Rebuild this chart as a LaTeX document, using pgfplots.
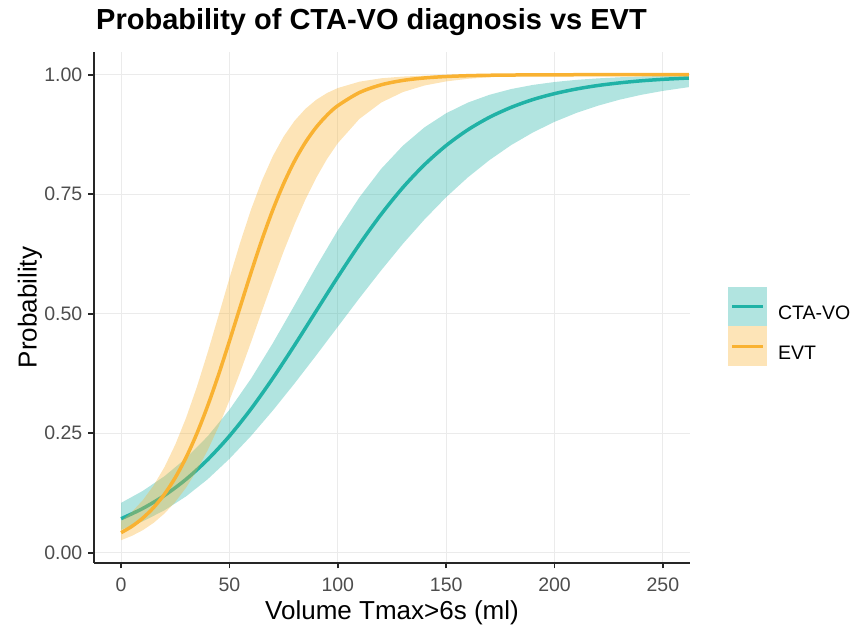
\documentclass[border=0pt]{standalone}
\usepackage{pgfplots}
\pgfplotsset{compat=1.18}
\usepackage{fontspec}
\setmainfont{Liberation Sans}
\definecolor{ctaline}{RGB}{32,178,166}
\definecolor{evtline}{RGB}{249,178,50}
\definecolor{gridc}{RGB}{235,235,235}
\definecolor{tickc}{RGB}{77,77,77}
\begin{document}
\begin{tikzpicture}
\path[use as bounding box] (0,0) rectangle (854pt,628pt);
\begin{axis}[
  at={(94pt,65pt)}, anchor=south west,
  scale only axis, width=596pt, height=511pt,
  xmin=-12.5, xmax=262.5, ymin=-0.0215, ymax=1.0475,
  axis x line=bottom, axis y line=left,
  axis line style={-, black!85, line width=1.8pt},
  xtick={0,50,100,150,200,250},
  xticklabels={0,50,100,150,200,250},
  ytick={0,0.25,0.5,0.75,1},
  yticklabels={0.00,0.25,0.50,0.75,1.00},
  tick align=outside,
  major tick length=5.5pt,
  tick style={black!85, line width=1.8pt},
  /pgf/number format/assume math mode=true,
  xticklabel style={font=\fontsize{19.5}{23}\selectfont, color=tickc, inner sep=0pt, yshift=-9pt},
  yticklabel style={font=\fontsize{19.5}{23}\selectfont, color=tickc, inner sep=0pt, xshift=-6pt},
  grid=major,
  grid style={gridc, line width=1pt},
  title={Probability of CTA-VO diagnosis vs EVT},
  title style={at={(axis description cs:0,1)}, anchor=base west, inner sep=0pt, xshift=2pt, yshift=16pt,
    font=\fontsize{29}{34}\selectfont\bfseries},
  xlabel={Volume Tmax>6s (ml)},
  xlabel style={at={(axis description cs:0.5,0)}, anchor=center, yshift=-50pt, inner sep=0pt,
    font=\fontsize{26}{30}\selectfont},
  ylabel={Probability},
  ylabel style={at={(axis description cs:0,0.5)}, anchor=center, yshift=64pt, inner sep=0pt,
    font=\fontsize{26}{30}\selectfont},
  legend style={at={(axis description cs:1.0638,0.463)}, anchor=west, draw=none, fill=none,
    inner sep=0pt, outer sep=0pt, row sep=0pt, column sep=11pt,
    nodes={inner sep=0pt}, font=\fontsize{19.5}{23}\selectfont},
  legend cell align=left,
]
% CTA-VO ribbon (upper forward, lower backward)
\addplot[forget plot, draw=none, fill=ctaline, fill opacity=0.35] coordinates {
(0,0.1043) (10,0.1293) (20,0.1600) (30,0.1978) (40,0.2438) (50,0.2992) (60,0.3644) (70,0.4383)
(80,0.5175) (90,0.5980) (100,0.6746) (110,0.7437) (120,0.8030) (130,0.8514) (140,0.8899)
(150,0.9194) (160,0.9416) (170,0.9580) (180,0.9700) (190,0.9786) (200,0.9847) (210,0.9892)
(220,0.9923) (230,0.9946) (240,0.9962) (250,0.9973) (262,0.9982)
(262,0.9740) (250,0.9661) (240,0.9579) (230,0.9477) (220,0.9351) (210,0.9199) (200,0.9014)
(190,0.8791) (180,0.8528) (170,0.8214) (160,0.7852) (150,0.7438) (140,0.6972) (130,0.6461)
(120,0.5907) (110,0.5327) (100,0.4728) (90,0.4127) (80,0.3539) (70,0.2974) (60,0.2445)
(50,0.1964) (40,0.1539) (30,0.1179) (20,0.0887) (10,0.0656) (0,0.0479)
};
% CTA-VO fitted line
\addplot[forget plot, ctaline, line width=3.5pt, smooth] coordinates {
(0,0.0711) (10,0.0926) (20,0.1198) (30,0.1537) (40,0.1950) (50,0.2441) (60,0.3011) (70,0.3650)
(80,0.4339) (90,0.5055) (100,0.5769) (110,0.6452) (120,0.7080) (130,0.7639) (140,0.8118)
(150,0.8519) (160,0.8847) (170,0.9110) (180,0.9317) (190,0.9480) (200,0.9604) (210,0.9700)
(220,0.9774) (230,0.9829) (240,0.9872) (250,0.9903) (262,0.9931)
};
% EVT ribbon
\addplot[forget plot, draw=none, fill=evtline, fill opacity=0.35] coordinates {
(0,0.0664) (5,0.0854) (10,0.1098) (15,0.1406) (20,0.1790) (25,0.2262) (30,0.2823) (35,0.3473)
(40,0.4197) (45,0.4965) (50,0.5744) (55,0.6496) (60,0.7186) (65,0.7787) (70,0.8295) (75,0.8707)
(80,0.9033) (85,0.9284) (90,0.9474) (95,0.9616) (100,0.9721) (110,0.9854) (120,0.9925)
(130,0.9961) (140,0.9980) (150,0.9990) (160,0.9995) (170,0.9997) (180,0.9998) (200,1.0000)
(230,1.0000) (262,1.0000)
(262,0.9999) (230,0.9997) (200,0.9988) (180,0.9968) (170,0.9947) (160,0.9914) (150,0.9860)
(140,0.9774) (130,0.9636) (120,0.9417) (110,0.9077) (100,0.8568) (95,0.8235) (90,0.7840)
(85,0.7384) (80,0.6870) (75,0.6302) (70,0.5690) (65,0.5055) (60,0.4410) (55,0.3782) (50,0.3187)
(45,0.2639) (40,0.2148) (35,0.1724) (30,0.1362) (25,0.1062) (20,0.0819) (15,0.0624) (10,0.0471)
(5,0.0353) (0,0.0262)
};
% EVT fitted line
\addplot[forget plot, evtline, line width=3.5pt, smooth] coordinates {
(0,0.0419) (5,0.0552) (10,0.0724) (15,0.0945) (20,0.1224) (25,0.1571) (30,0.1994) (35,0.2497)
(40,0.3079) (45,0.3729) (50,0.4428) (55,0.5150) (60,0.5866) (65,0.6548) (70,0.7171) (75,0.7721)
(80,0.8191) (85,0.8581) (90,0.8899) (95,0.9152) (100,0.9352) (110,0.9627) (120,0.9788)
(130,0.9880) (140,0.9932) (150,0.9962) (160,0.9979) (170,0.9988) (180,0.9993) (200,0.9998)
(230,1.0000) (262,1.0000)
};
\addlegendimage{legend image code/.code={
  \fill[draw=none, ctaline, fill opacity=0.35] (0pt,-12.75pt) rectangle (39pt,26.75pt);
  \draw[ctaline, line width=3pt] (4pt,7pt) -- (35pt,7pt);}}
\addlegendentry{CTA-VO}
\addlegendimage{legend image code/.code={
  \fill[draw=none, evtline, fill opacity=0.35] (0pt,-12.75pt) rectangle (39pt,26.75pt);
  \draw[evtline, line width=3pt] (4pt,7pt) -- (35pt,7pt);}}
\addlegendentry{EVT}
\end{axis}
\end{tikzpicture}
\end{document}
